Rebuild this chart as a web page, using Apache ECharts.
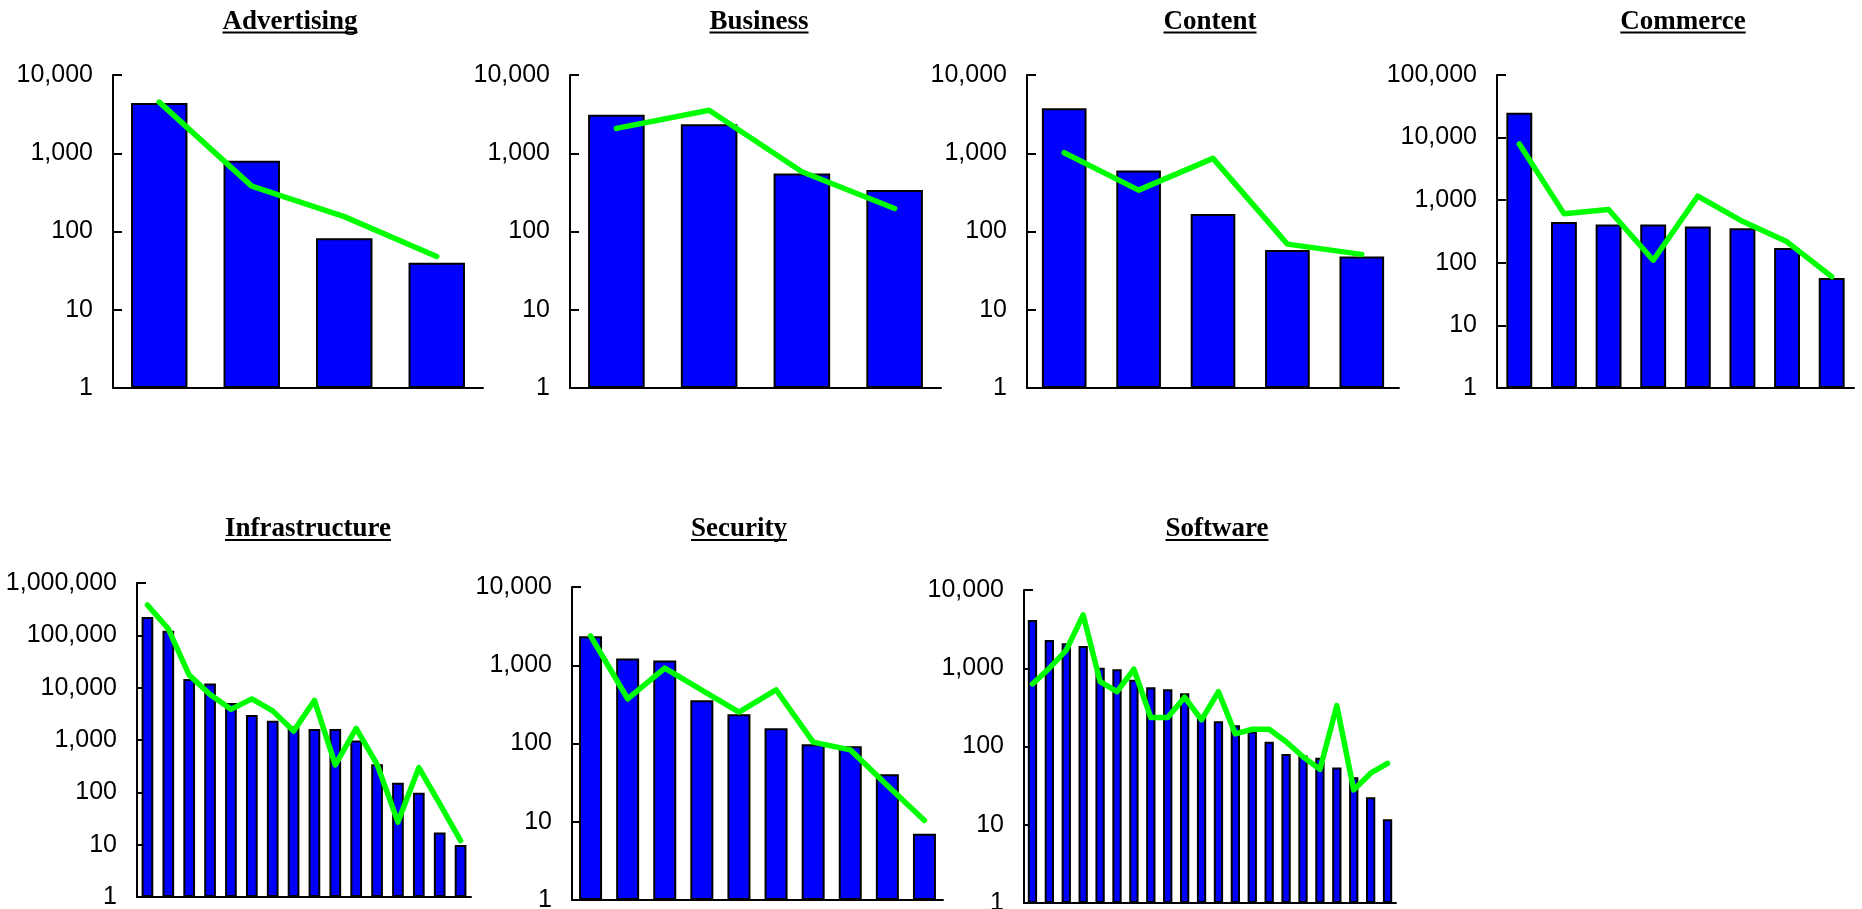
<!DOCTYPE html>
<html>
<head>
<meta charset="utf-8">
<script src="https://cdn.jsdelivr.net/npm/echarts@6/dist/echarts.min.js"></script>
<style>
html,body{margin:0;padding:0;background:#ffffff;}
#chart{width:1862px;height:909px;}
</style>
</head>
<body>
<div id="chart"></div>
<script>
// ---------- data ----------
const panelTitles = ['Advertising', 'Business', 'Content', 'Commerce', 'Infrastructure', 'Security', 'Software'];

const advertisingBars = [4400, 800, 82, 40];
const advertisingLine = [4500, 380, 155, 48];

const businessBars = [3100, 2350, 550, 340];
const businessLine = [2080, 3550, 580, 197];

const contentBars = [3750, 600, 167, 58, 48];
const contentLine = [1015, 338, 860, 69, 51];

const commerceBars = [25000, 450, 410, 410, 380, 357, 173, 57];
const commerceLine = [7900, 610, 710, 110, 1160, 460, 216, 60];

const infrastructureBars = [224000, 122000, 14700, 12000, 5100, 3000, 2330, 1830, 1620, 1620, 980, 343, 153, 98, 17, 9.9];
const infrastructureLine = [380000, 133000, 17400, 7400, 3850, 6100, 3600, 1480, 5700, 335, 1675, 343, 27, 296, 61, 12];

const securityBars = [2340, 1220, 1150, 358, 237, 157, 98, 92, 40.5, 7];
const securityLine = [2380, 373, 920, 480, 252, 486, 104, 83, 29, 10.4];

const softwareBars = [4140, 2300, 2085, 1930, 1018, 971, 715, 571, 539, 480, 244, 210, 187, 155, 115, 80, 77, 72, 54, 40.5, 22.5, 11.8];
const softwareLine = [631, 1000, 1710, 4800, 675, 502, 971, 234, 234, 426, 219, 502, 145, 166, 166, 115, 74, 51, 333, 27.9, 45.6, 61];

// y-axis ranges (tick labels 1, 10, 100, ... up to these maxima)
const axisMin = 1;
const axisMax = [10000, 10000, 10000, 100000, 1000000, 10000, 10000];

const barSets = [advertisingBars, businessBars, contentBars, commerceBars, infrastructureBars, securityBars, softwareBars];
const lineSets = [advertisingLine, businessLine, contentLine, commerceLine, infrastructureLine, securityLine, softwareLine];

// ---------- layout (positions / sizes / styles) ----------
const layout = [
  {left: 113,  top: 75,  width: 370, height: 313, tx: 290,  ty: 22,  uy: 31.5, bw: '61%'},
  {left: 570,  top: 75,  width: 371, height: 313, tx: 759,  ty: 22,  uy: 31.5, bw: '61%'},
  {left: 1027, top: 75,  width: 372, height: 313, tx: 1210, ty: 22,  uy: 31.5, bw: '60%'},
  {left: 1497, top: 75,  width: 357, height: 313, tx: 1683, ty: 22,  uy: 31.5, bw: '58%'},
  {left: 137,  top: 583, width: 334, height: 314, tx: 308,  ty: 529.5, uy: 539, bw: '56%'},
  {left: 572,  top: 587, width: 371, height: 313, tx: 739,  ty: 529.5, uy: 539, bw: '62%'},
  {left: 1024, top: 590, width: 372, height: 313, tx: 1217, ty: 529.5, uy: 539, bw: '55%'}
];

const titleFont = {size: 27, family: '"Liberation Serif", "Times New Roman", serif'};
const labelFont = {size: 25, family: '"Liberation Sans", Arial, sans-serif'};

function fmt(v) {
  return Math.round(v).toLocaleString('en-US');
}

const measureCtx = document.createElement('canvas').getContext('2d');
measureCtx.font = 'bold ' + titleFont.size + 'px ' + titleFont.family;

const grids = [], xAxes = [], yAxes = [], series = [], graphics = [];

panelTitles.forEach(function (name, i) {
  const L = layout[i];
  const categories = barSets[i].map(function (_, j) { return String(j + 1); });

  grids.push({left: L.left, top: L.top, width: L.width, height: L.height, outerBoundsMode: 'none', containLabel: false});

  xAxes.push({
    type: 'category', gridIndex: i, data: categories, boundaryGap: true,
    axisLine: {show: true, onZero: false, lineStyle: {color: '#000', width: 2}},
    axisTick: {show: false}, axisLabel: {show: false}, splitLine: {show: false}
  });

  yAxes.push({
    type: 'log', logBase: 10, gridIndex: i, min: axisMin, max: axisMax[i], interval: 1,
    axisLine: {show: true, lineStyle: {color: '#000', width: 2}},
    axisTick: {show: true, inside: true, length: 9, lineStyle: {color: '#000', width: 2}},
    axisLabel: {show: true, margin: 20, color: '#000', fontSize: labelFont.size, fontFamily: labelFont.family, formatter: fmt},
    splitLine: {show: false}, minorTick: {show: false}
  });

  series.push({
    type: 'bar', xAxisIndex: i, yAxisIndex: i, data: barSets[i], barWidth: L.bw,
    itemStyle: {color: '#0000ff', borderColor: '#000', borderWidth: 2},
    z: 2, silent: true
  });

  series.push({
    type: 'line', xAxisIndex: i, yAxisIndex: i, data: lineSets[i],
    symbol: 'none', showSymbol: false,
    lineStyle: {color: '#00ff00', width: 5.5, cap: 'round', join: 'round'},
    z: 3, silent: true
  });

  const w = measureCtx.measureText(name).width;
  graphics.push({
    type: 'text', x: L.tx, y: L.ty, silent: true,
    style: {text: name, fill: '#000', fontSize: titleFont.size, fontFamily: titleFont.family, fontWeight: 'bold', align: 'center', verticalAlign: 'middle'}
  });
  graphics.push({
    type: 'rect', silent: true,
    shape: {x: L.tx - w / 2, y: L.uy, width: w, height: 2},
    style: {fill: '#000'}
  });
});

const chart = echarts.init(document.getElementById('chart'), null, {renderer: 'canvas'});
chart.setOption({
  animation: false,
  backgroundColor: '#ffffff',
  grid: grids,
  xAxis: xAxes,
  yAxis: yAxes,
  series: series,
  graphic: graphics
});
</script>
</body>
</html>
